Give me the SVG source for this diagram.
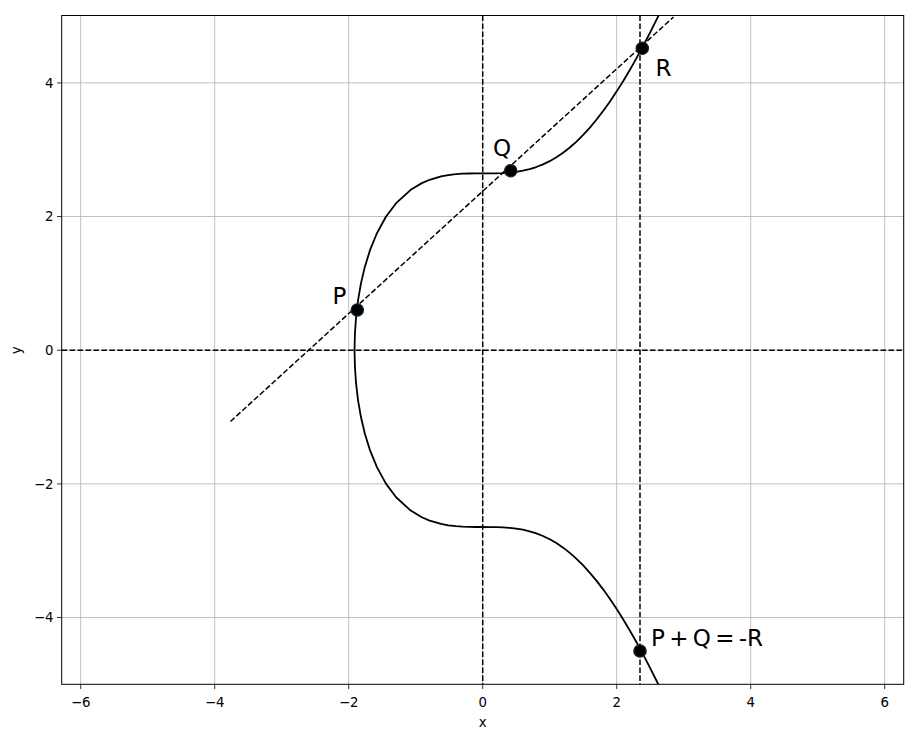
<svg xmlns="http://www.w3.org/2000/svg" xmlns:xlink="http://www.w3.org/1999/xlink" width="922" height="736" viewBox="0 0 922 736">
<style>
.grid{stroke:#b0b0b0;stroke-width:0.8;fill:none}
.frame{stroke:#000;stroke-width:1;fill:none}
.tick{stroke:#000;stroke-width:0.8}
.tl{font-family:"DejaVu Sans",sans-serif;font-size:13.3px;fill:#000}
.dash{stroke:#000;stroke-width:1.5;stroke-dasharray:5.55 2.4;fill:none}
.curve{stroke:#000;stroke-width:1.8;fill:none;stroke-linejoin:round}
.pt{fill:#000;stroke:#13263a;stroke-width:1.2}
.lbl{font-family:"DejaVu Sans",sans-serif;font-size:23px;fill:#000}
</style>
<defs>
<clipPath id="ax"><rect x="61.7" y="15.5" width="842" height="668.8"/></clipPath>
</defs>
<rect width="922" height="736" fill="#fff"/>
<g id="grid">
<path class="grid" d="M80.7 15.5V684.3M214.7 15.5V684.3M348.7 15.5V684.3M482.7 15.5V684.3M616.7 15.5V684.3M750.7 15.5V684.3M884.7 15.5V684.3M61.7 82.9H903.7M61.7 216.5H903.7M61.7 350.2H903.7M61.7 483.9H903.7M61.7 617.5H903.7"/>
</g>
<g id="connectors" clip-path="url(#ax)">
<line class="dash" x1="61.7" y1="350.2" x2="903.7" y2="350.2"/>
<line class="dash" x1="482.7" y1="15.5" x2="482.7" y2="684.3"/>
<line class="dash" x1="230.5" y1="421.5" x2="673.5" y2="17"/>
<line class="dash" x1="640" y1="15.5" x2="640" y2="684.3"/>
<path id="upper" class="curve" d="M354.54 350.2L354.92 333.49L356.08 316.78L358.06 300.08L360.95 283.37L364.88 266.66L370.07 249.95L376.9 233.25L386.07 216.54L396.1 203.17L410.71 189.81L421.82 183.12L429.61 179.78L441.07 176.44L448.28 175.11L455.9 174.2L462.6 173.72L469.3 173.49L476 173.39L482.7 173.38L489.4 173.37L496.1 173.28L502.8 173.04L509.5 172.58L516.2 171.81L522.9 170.67L529.6 169.1L536.3 167.03L543 164.41L549.7 161.18L556.4 157.31L563.1 152.76L569.8 147.52L576.5 141.59L583.2 134.94L589.9 127.58L596.6 119.54L603.3 110.8L610 101.4L616.7 91.37L623.4 80.71L630.1 69.45L636.8 57.62L643.5 45.23L650.2 32.32L656.9 18.9L658.29 16.05L659 14.6"/>
<use xlink:href="#upper" transform="translate(0,700.4) scale(1,-1)"/>
</g>
<g id="frame">
<rect class="frame" x="61.7" y="15.5" width="842" height="668.8"/>
<path class="tick" d="M80.7 684.3v4.7M214.7 684.3v4.7M348.7 684.3v4.7M482.7 684.3v4.7M616.7 684.3v4.7M750.7 684.3v4.7M884.7 684.3v4.7M61.7 82.9h-4.7M61.7 216.5h-4.7M61.7 350.2h-4.7M61.7 483.9h-4.7M61.7 617.5h-4.7"/>
<g class="tl" text-anchor="middle">
<text x="80.7" y="707">−6</text>
<text x="214.7" y="707">−4</text>
<text x="348.7" y="707">−2</text>
<text x="482.7" y="707">0</text>
<text x="616.7" y="707">2</text>
<text x="750.7" y="707">4</text>
<text x="884.7" y="707">6</text>
<text x="482.7" y="727">x</text>
</g>
<g class="tl" text-anchor="end">
<text x="53.5" y="87.7">4</text>
<text x="53.5" y="221.3">2</text>
<text x="53.5" y="355">0</text>
<text x="53.5" y="488.7">−2</text>
<text x="53.5" y="622.3">−4</text>
</g>
<text class="tl" text-anchor="middle" transform="translate(20.5,350.2) rotate(-90)">y</text>
</g>
<g id="P"><circle class="pt" cx="357.3" cy="310" r="6.2"/><text class="lbl" x="332.5" y="303.5">P</text></g>
<g id="Q"><circle class="pt" cx="510.7" cy="170.7" r="6.2"/><text class="lbl" x="493" y="156">Q</text></g>
<g id="R"><circle class="pt" cx="642.3" cy="48.3" r="6.2"/><text class="lbl" x="655.5" y="75.5">R</text></g>
<g id="PQ"><circle class="pt" cx="640" cy="651" r="6.2"/><text class="lbl" x="651" y="646" word-spacing="-3">P + Q = -R</text></g>
</svg>
